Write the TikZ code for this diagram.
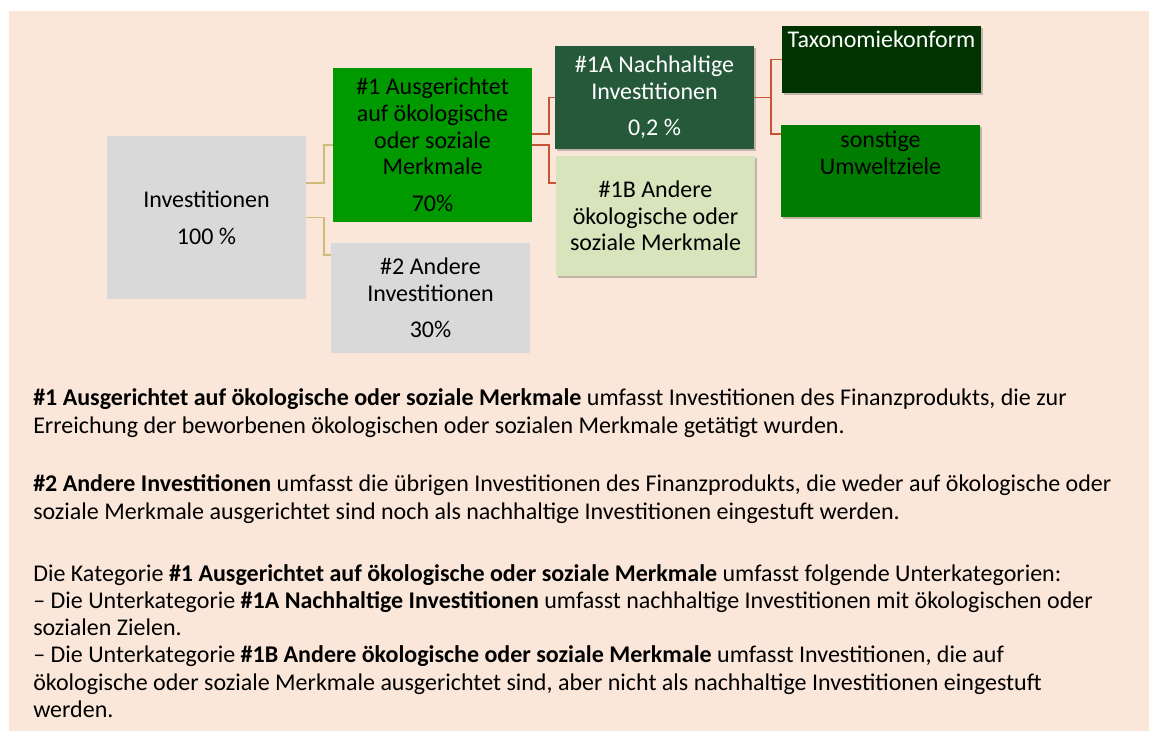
\documentclass[tikz,border=0pt]{standalone}
\usepackage{fontspec}
\setmainfont{Carlito}
\usetikzlibrary{calc,shadows}
\definecolor{peach}{RGB}{251,231,218}
\definecolor{boxgray}{RGB}{217,217,217}
\definecolor{greenA}{RGB}{0,153,0}
\definecolor{darkg}{RGB}{38,89,58}
\definecolor{lightg}{RGB}{216,228,188}
\definecolor{taxg}{RGB}{0,51,0}
\definecolor{sonstg}{RGB}{0,124,0}
\definecolor{tanline}{RGB}{207,188,124}
\definecolor{redline}{RGB}{200,84,52}
\begin{document}
\begin{tikzpicture}[x=0.75pt,y=-0.75pt,
  box/.style={rectangle, inner sep=2pt, align=center, font=\fontsize{18}{20}\selectfont, minimum width=149.25pt},
  shadowed/.style={drop shadow={shadow xshift=1.2pt, shadow yshift=-1.2pt, fill=black, opacity=0.22}},
  lbl/.style={inner sep=0, align=center, font=\fontsize{18}{20}\selectfont},
  body/.style={anchor=base west, inner sep=0, font=\fontsize{18}{20}\selectfont},
  tanc/.style={draw=tanline, line width=1.2pt},
  redc/.style={draw=redline, line width=1.2pt}]
\useasboundingbox (0,0) rectangle (1155,731);
\fill[peach] (9,11) rectangle (1149,731);

% boxes
\node[box, fill=boxgray, minimum height=122.25pt] (inv) at (206.5,217.5) {Investitionen\\[7.5pt]100 \%};
\node[box, fill=greenA, minimum height=115.5pt] (g1) at (432.5,145) {\#1 Ausgerichtet\\auf ökologische\\oder soziale\\Merkmale\\[7.5pt]70\%};
\node[box, fill=boxgray, minimum height=82.5pt] (a2) at (430.5,298) {\#2 Andere\\Investitionen\\[7.5pt]30\%};
\node[box, shadowed, fill=darkg, text=white, minimum height=77.25pt] (s1A) at (654.5,97.5) {\#1A Nachhaltige\\Investitionen\\[7.5pt]0,2 \%};
\node[box, shadowed, fill=lightg, minimum height=90pt] (s1B) at (655.5,216) {\#1B Andere\\ökologische oder\\soziale Merkmale};
\node[box, shadowed, fill=taxg, minimum height=50.25pt] (tax) at (881.5,59.5) {};
\node[box, shadowed, fill=sonstg, minimum height=69pt] (son) at (880.5,171) {};
\node[lbl, text=white, anchor=base] (taxtext) at (881.5,47.7) {Taxonomiekonform};
\node[lbl, anchor=south] (sontext) at (880.5,175) {sonstige\\Umweltziele};

% connectors
\draw[tanc] ($(inv.east)+(0,-34.5)$) -- ++(18,0) |- (g1.west);
\draw[tanc] (inv.east) -- ++(18,0) |- ($(a2.west)+(0,-43)$);
\draw[redc] ($(g1.east)+(0,-11)$) -- ++(17,0) |- (s1A.west);
\draw[redc] (g1.east) -- ++(17,0) |- ($(s1B.west)+(0,-33)$);
\draw[redc] (s1A.east) -- ++(17,0) coordinate (fork) |- (tax.west);
\draw[redc] (fork) |- ($(son.west)+(0,-37)$);

% explanatory text
\node[body] (p1a) at (33,405.5) {\textbf{\#1 Ausgerichtet auf ökologische oder soziale Merkmale} umfasst Investitionen des Finanzprodukts, die zur};
\node[body] (p1b) at (33,433) {Erreichung der beworbenen ökologischen oder sozialen Merkmale getätigt wurden.};
\node[body] (p2a) at (33,491.5) {\textbf{\#2 Andere Investitionen} umfasst die übrigen Investitionen des Finanzprodukts, die weder auf ökologische oder};
\node[body] (p2b) at (33,519) {soziale Merkmale ausgerichtet sind noch als nachhaltige Investitionen eingestuft werden.};
\node[body] (p3a) at (33,581) {Die Kategorie \textbf{\#1 Ausgerichtet auf ökologische oder soziale Merkmale} umfasst folgende Unterkategorien:};
\node[body] (p3b) at (33,608.3) {– Die Unterkategorie \textbf{\#1A Nachhaltige Investitionen} umfasst nachhaltige Investitionen mit ökologischen oder};
\node[body] (p3c) at (33,635.6) {sozialen Zielen.};
\node[body] (p3d) at (33,662.9) {– Die Unterkategorie \textbf{\#1B Andere ökologische oder soziale Merkmale} umfasst Investitionen, die auf};
\node[body] (p3e) at (33,690.2) {ökologische oder soziale Merkmale ausgerichtet sind, aber nicht als nachhaltige Investitionen eingestuft};
\node[body] (p3f) at (33,717.5) {werden.};
\end{tikzpicture}
\end{document}
